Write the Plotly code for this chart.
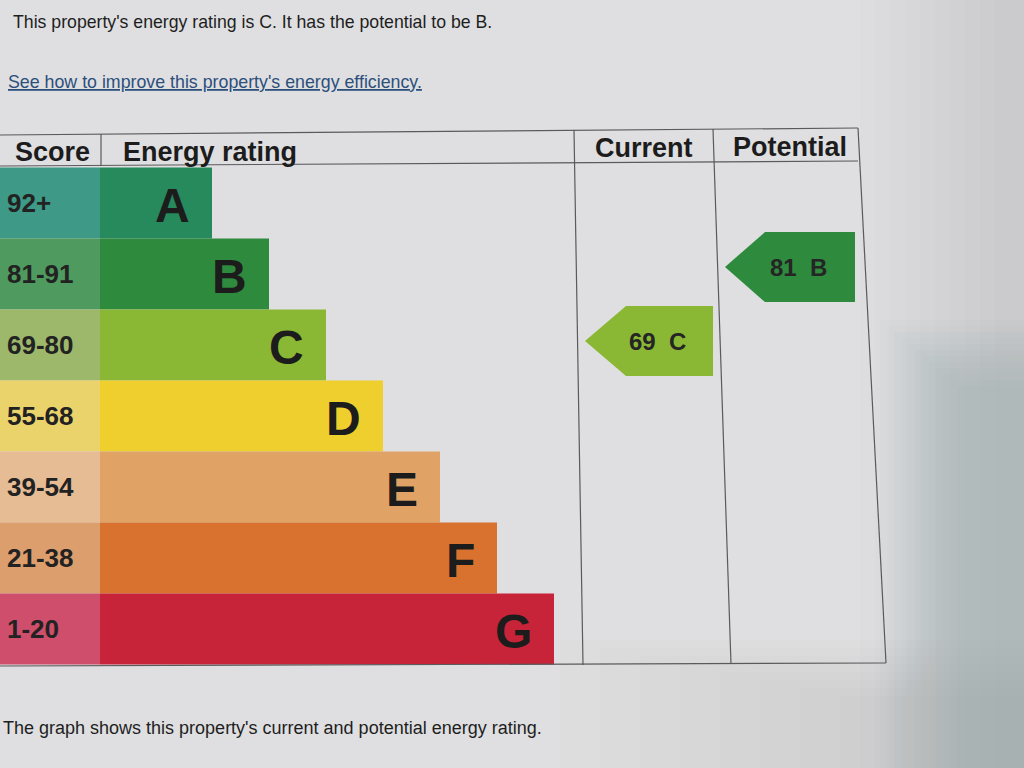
import plotly.graph_objects as go

# ---------------- data ----------------
ratings = ["A", "B", "C", "D", "E", "F", "G"]
score_ranges = ["92+", "81-91", "69-80", "55-68", "39-54", "21-38", "1-20"]
score_min = [92, 81, 69, 55, 39, 21, 1]
band_colors = ["#268a5c", "#2e8b3e", "#8bb834", "#eecf2e", "#e0a265", "#d8722e", "#c72439"]
score_colors = ["#3e9a86", "#4f9a5e", "#9db86b", "#ebd36b", "#e6bc95", "#dd9e6d", "#ce4e6c"]
headers = ["Score", "Energy rating", "Current", "Potential"]
current_score = 69
potential_score = 81
intro_text = "This property's energy rating is C. It has the potential to be B."
link_text = "See how to improve this property's energy efficiency."
footer_text = "The graph shows this property's current and potential energy rating."

# ---------------- layout constants (pixels) ----------------
W, H = 1024, 768
ROW_TOP, ROW_H = 167.5, 71
SCORE_W = 100
BAR_X0 = 100
BAR_FIRST, BAR_STEP = 112, 57
FONT = "Liberation Sans, Arial, sans-serif"
PAPER = "#dfdfe1"
INK = "#1c1c1c"

centers = [ROW_TOP + ROW_H * (i + 0.5) for i in range(len(ratings))]
bar_len = [BAR_FIRST + BAR_STEP * i for i in range(len(ratings))]


def band_index(score):
    for i, m in enumerate(score_min):
        if score >= m:
            return i
    return len(score_min) - 1


fig = go.Figure()

# score column
fig.add_trace(go.Bar(
    orientation="h", y=centers, x=[SCORE_W] * len(ratings), base=0,
    width=ROW_H, marker=dict(color=score_colors, line=dict(width=0)),
    hoverinfo="skip", showlegend=False,
))
# rating bars
fig.add_trace(go.Bar(
    orientation="h", y=centers, x=bar_len, base=BAR_X0,
    width=ROW_H, marker=dict(color=band_colors, line=dict(width=0)),
    hoverinfo="skip", showlegend=False,
))

annotations = []
for i, (r, s) in enumerate(zip(ratings, score_ranges)):
    annotations.append(dict(x=5, y=centers[i], text=f"<b>{s}</b>", xanchor="left",
                            yanchor="middle", showarrow=False,
                            font=dict(family=FONT, size=26, color="#222222")))
    annotations.append(dict(x=BAR_X0 + bar_len[i] - 20, y=centers[i] + 2, text=f"<b>{r}</b>",
                            xanchor="right", yanchor="middle", showarrow=False,
                            font=dict(family=FONT, size=48, color=INK)))


# arrows for current / potential
def add_arrow(score, x_tip, x_end, tip_w, dy):
    idx = band_index(score)
    yc = centers[idx] + dy
    h = ROW_H - 1
    xb = x_tip + tip_w
    fig.add_trace(go.Scatter(
        x=[x_tip, xb, x_end, x_end, xb, x_tip],
        y=[yc, yc - h / 2, yc - h / 2, yc + h / 2, yc + h / 2, yc],
        fill="toself", fillcolor=band_colors[idx], mode="lines",
        line=dict(width=0, color=band_colors[idx]), hoverinfo="skip", showlegend=False,
    ))
    annotations.append(dict(x=(x_tip + x_end) / 2 + 8, y=yc, text=f"<b>{score}  {ratings[idx]}</b>",
                            xanchor="center", yanchor="middle", showarrow=False,
                            font=dict(family=FONT, size=24, color="#252525")))


add_arrow(current_score, 585, 713, 41, -4)
add_arrow(potential_score, 725, 855, 40, -7)

# headers
annotations += [
    dict(x=13, y=152, text=f"<b>{headers[0]}</b>", xanchor="left"),
    dict(x=121, y=152, text=f"<b>{headers[1]}</b>", xanchor="left"),
    dict(x=644, y=148, text=f"<b>{headers[2]}</b>", xanchor="center"),
    dict(x=790, y=147, text=f"<b>{headers[3]}</b>", xanchor="center"),
]
for a in annotations[-4:]:
    a.update(yanchor="middle", showarrow=False, font=dict(family=FONT, size=27, color=INK))

# page text
annotations += [
    dict(x=11, y=22, text=intro_text, xanchor="left", yanchor="middle", showarrow=False,
         font=dict(family=FONT, size=17.7, color="#1e1e1e")),
    dict(x=6, y=82, text=link_text, xanchor="left", yanchor="middle", showarrow=False,
         font=dict(family=FONT, size=17.8, color="#2c4f7c", lineposition="under")),
    dict(x=0, xref="paper", xshift=1, y=728, text=footer_text, xanchor="left",
         yanchor="middle", showarrow=False,
         font=dict(family=FONT, size=18, color="#1e1e1e")),
]

# table grid lines
LC = "#5a5a5c"
shapes = [
    dict(type="line", x0=0, y0=135, x1=858, y1=128),      # top border
    dict(type="line", x0=0, y0=166, x1=858, y1=161),      # header bottom
    dict(type="line", x0=0, y0=666, x1=886, y1=663),      # bottom border
    dict(type="line", x0=101, y0=134, x1=101, y1=166),    # score | rating header divider
    dict(type="line", x0=574, y0=130, x1=583, y1=665),    # current divider
    dict(type="line", x0=713, y0=129, x1=731, y1=664),    # potential divider
    dict(type="line", x0=858, y0=128, x1=886, y1=663),    # right border
]
for s in shapes:
    s.update(xref="x", yref="y", line=dict(color=LC, width=1.2), layer="above")

# photo lighting: soft, layered shadow towards the right edge
for k in range(10):
    shapes.append(dict(type="rect", xref="x", yref="y",
                       x0=860 + k * 15, y0=0, x1=1024, y1=768,
                       fillcolor="#a4a6aa", opacity=0.02,
                       line=dict(width=0), layer="below"))
for k in range(12):
    shapes.append(dict(type="rect", xref="x", yref="y",
                       x0=880 + k * 7, y0=320 + k * 6, x1=1024, y1=768,
                       fillcolor="#8e9094", opacity=0.032,
                       line=dict(width=0), layer="below"))
for k in range(8):
    shapes.append(dict(type="rect", xref="x", yref="y",
                       x0=560 + k * 40, y0=640 + k * 8, x1=1024, y1=768,
                       fillcolor="#a0a2a6", opacity=0.03,
                       line=dict(width=0), layer="below"))

fig.update_layout(
    width=W, height=H, margin=dict(l=0, r=0, t=0, b=0),
    paper_bgcolor=PAPER, plot_bgcolor=PAPER,
    barmode="overlay",
    xaxis=dict(range=[0, W], visible=False, fixedrange=True),
    yaxis=dict(range=[H, 0], visible=False, fixedrange=True),
    annotations=annotations, shapes=shapes, showlegend=False,
)

fig.write_html("out.html", config={"displayModeBar": False},
               post_script="document.body.style.margin='0';")
